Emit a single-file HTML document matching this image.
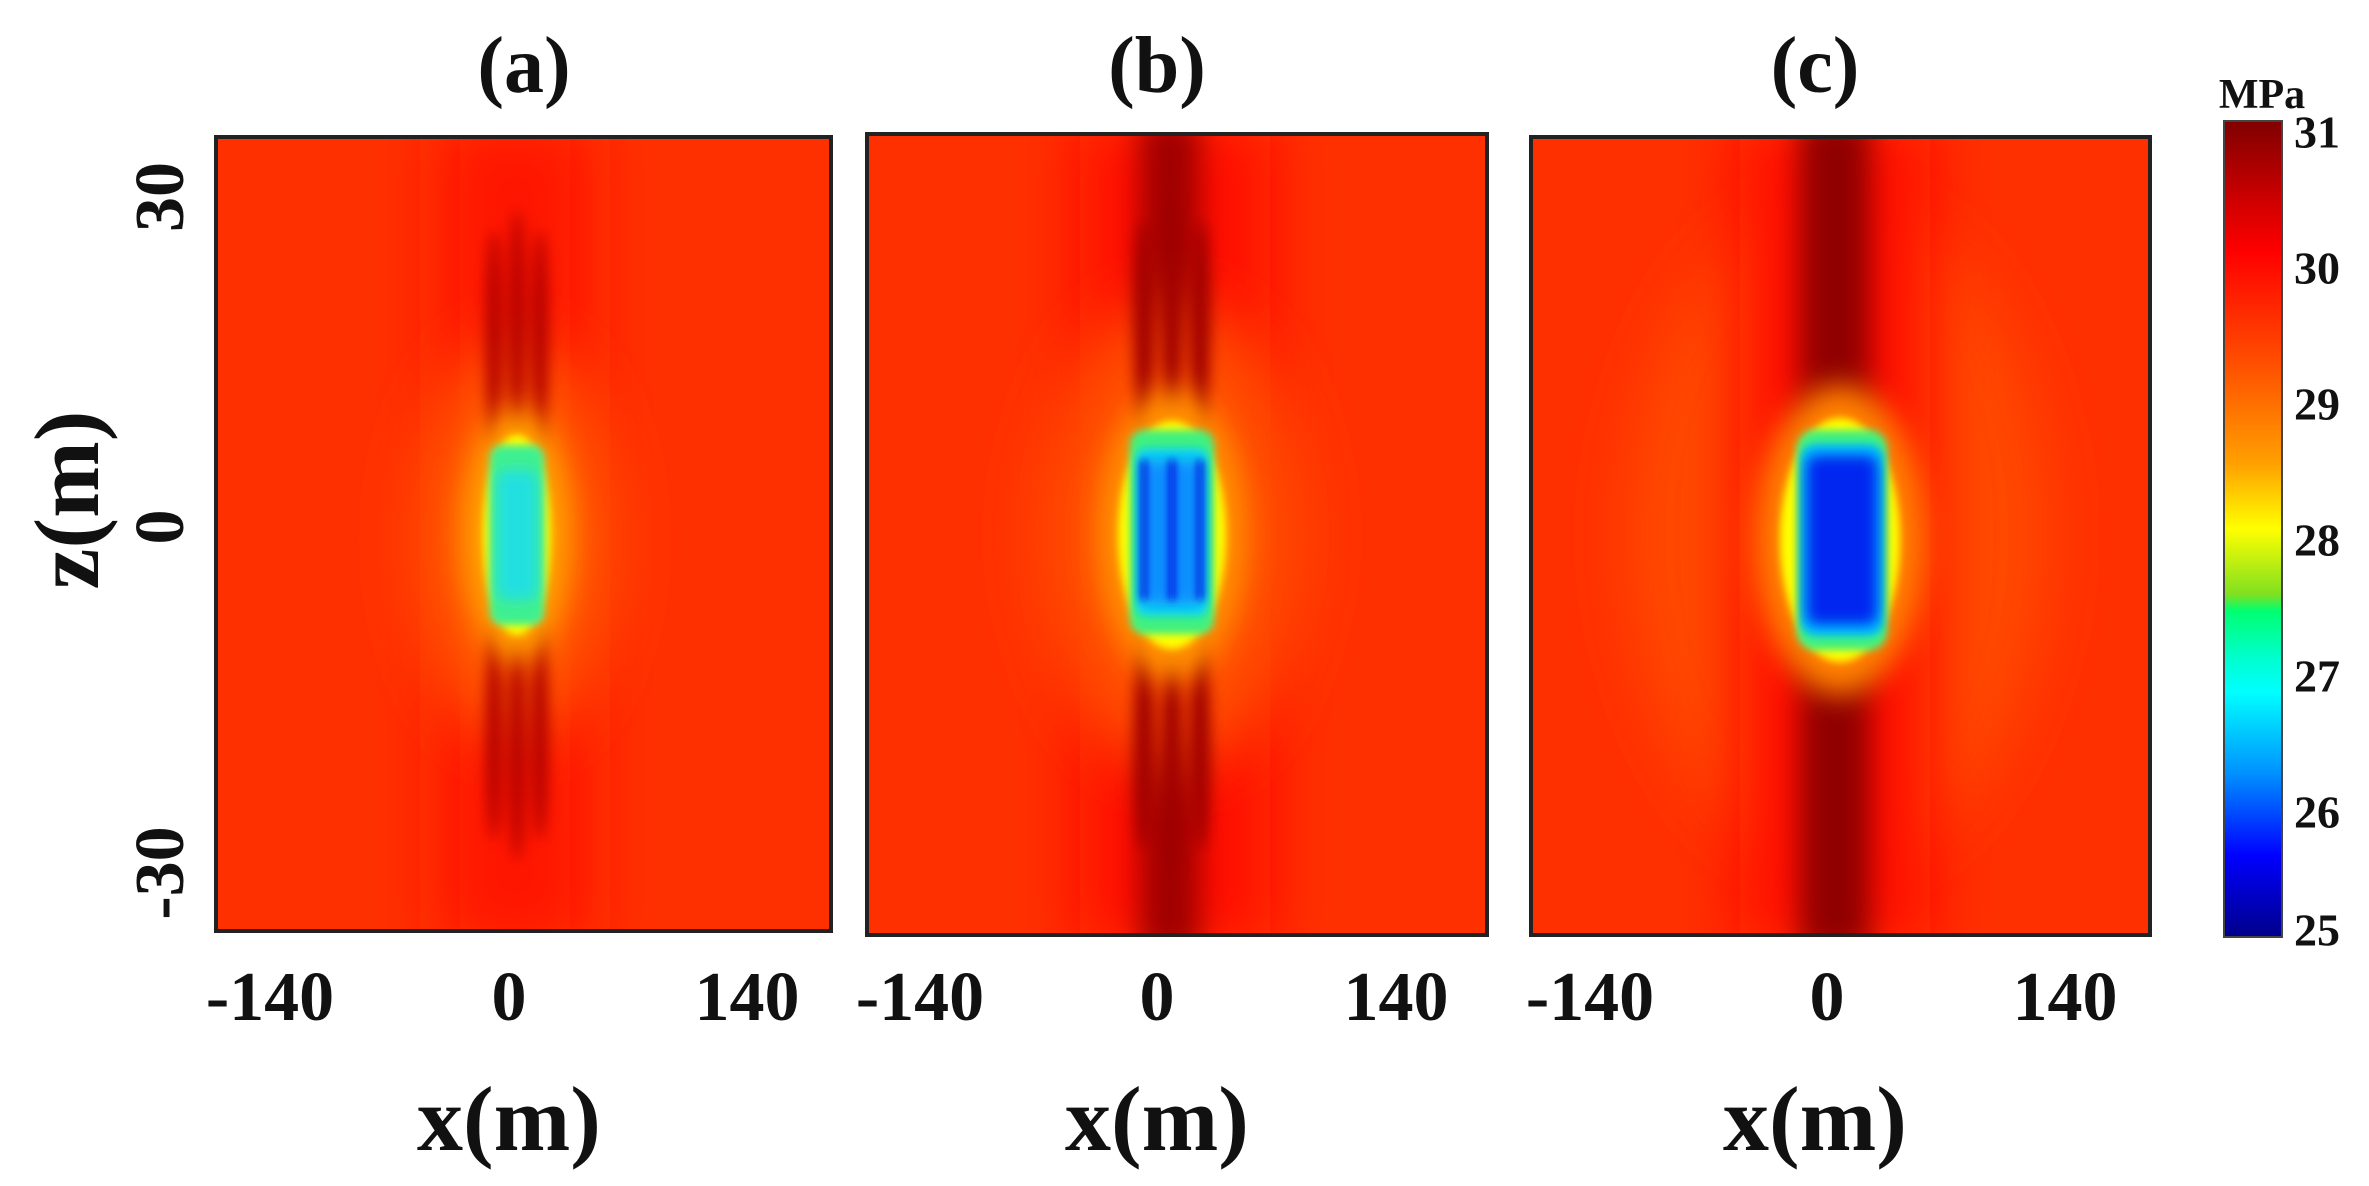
<!DOCTYPE html>
<html><head><meta charset="utf-8"><style>
html,body{margin:0;padding:0;background:#fff;}
svg{display:block}
text{font-family:"Liberation Serif",serif;font-weight:bold;fill:#111}
</style></head><body>
<svg width="2369" height="1186" viewBox="0 0 2369 1186" xmlns="http://www.w3.org/2000/svg">
<defs>
<filter id="b30" x="-50%" y="-50%" width="200%" height="200%"><feGaussianBlur stdDeviation="30"/></filter>
<filter id="b15" x="-50%" y="-50%" width="200%" height="200%"><feGaussianBlur stdDeviation="14"/></filter>
<filter id="b8" x="-50%" y="-50%" width="200%" height="200%"><feGaussianBlur stdDeviation="7"/></filter>
<filter id="b4" x="-50%" y="-50%" width="200%" height="200%"><feGaussianBlur stdDeviation="4"/></filter>
<clipPath id="ca"><rect x="216" y="137" width="615" height="794"/></clipPath>
<clipPath id="cb"><rect x="867" y="134" width="620" height="801"/></clipPath>
<clipPath id="cc"><rect x="1531" y="137" width="619" height="798"/></clipPath>
<linearGradient id="cbar" x1="0" y1="0" x2="0" y2="1">
<stop offset="0" stop-color="#800000"/><stop offset="0.1" stop-color="#d00000"/><stop offset="0.16" stop-color="#ff0000"/>
<stop offset="0.3" stop-color="#ff5000"/><stop offset="0.42" stop-color="#ffa000"/><stop offset="0.5" stop-color="#ffff00"/>
<stop offset="0.58" stop-color="#80e020"/><stop offset="0.6" stop-color="#00ff70"/><stop offset="0.66" stop-color="#00ffd0"/>
<stop offset="0.7" stop-color="#00ffff"/><stop offset="0.8" stop-color="#0090ff"/><stop offset="0.9" stop-color="#0000ff"/>
<stop offset="1" stop-color="#00008a"/></linearGradient>
</defs>

<!-- Panel a -->
<g clip-path="url(#ca)">
<rect x="216" y="137" width="615" height="794" fill="#ff3000"/>
<rect x="440" y="120" width="150" height="830" fill="#ff1800" filter="url(#b30)"/>
<ellipse cx="515" cy="540" rx="100" ry="200" fill="#ff5a00" filter="url(#b30)"/>
<g fill="#b00000" filter="url(#b8)">
<ellipse cx="494" cy="340" rx="8" ry="110"/><ellipse cx="517" cy="330" rx="8" ry="120"/><ellipse cx="540" cy="340" rx="8" ry="110"/>
<ellipse cx="494" cy="730" rx="8" ry="110"/><ellipse cx="517" cy="740" rx="8" ry="120"/><ellipse cx="540" cy="730" rx="8" ry="110"/>
</g>
<ellipse cx="517" cy="535" rx="55" ry="125" fill="#ffa000" filter="url(#b15)"/>
<ellipse cx="517" cy="535" rx="34" ry="100" fill="#ffff00" filter="url(#b4)"/>
<rect x="490" y="445" width="54" height="180" rx="12" fill="#40f090" filter="url(#b4)"/>
<rect x="496" y="470" width="42" height="130" rx="10" fill="#20e0e0" filter="url(#b8)"/>
</g>
<rect x="216" y="137" width="615" height="794" fill="none" stroke="#222" stroke-width="4"/>

<!-- Panel b -->
<g clip-path="url(#cb)">
<rect x="867" y="134" width="620" height="801" fill="#ff3000"/>
<rect x="1080" y="120" width="190" height="830" fill="#ff1000" filter="url(#b30)"/>
<rect x="1140" y="120" width="60" height="830" fill="#a00000" filter="url(#b15)"/>
<ellipse cx="1172" cy="535" rx="135" ry="235" fill="#ff5000" filter="url(#b30)"/>
<g fill="#a00000" filter="url(#b8)">
<ellipse cx="1144" cy="330" rx="10" ry="110"/><ellipse cx="1172" cy="320" rx="10" ry="120"/><ellipse cx="1200" cy="330" rx="10" ry="110"/>
<ellipse cx="1144" cy="740" rx="10" ry="110"/><ellipse cx="1172" cy="750" rx="10" ry="120"/><ellipse cx="1200" cy="740" rx="10" ry="110"/>
</g>
<ellipse cx="1172" cy="535" rx="75" ry="145" fill="#ff9000" filter="url(#b15)"/>
<ellipse cx="1172" cy="535" rx="54" ry="114" fill="#ffff00" filter="url(#b4)"/>
<rect x="1130" y="430" width="84" height="204" rx="14" fill="#40f080" filter="url(#b4)"/>
<rect x="1136" y="448" width="72" height="168" rx="10" fill="#10d8f0" filter="url(#b4)"/>
<rect x="1142" y="460" width="60" height="145" rx="8" fill="#1090ff" filter="url(#b8)"/>
<g fill="#0010e0" filter="url(#b4)"><rect x="1141" y="460" width="6" height="140"/><rect x="1169" y="460" width="6" height="140"/><rect x="1197" y="460" width="6" height="140"/></g>
</g>
<rect x="867" y="134" width="620" height="801" fill="none" stroke="#222" stroke-width="4"/>

<!-- Panel c -->
<g clip-path="url(#cc)">
<rect x="1531" y="137" width="619" height="798" fill="#ff3000"/>
<ellipse cx="1837" cy="535" rx="210" ry="330" fill="#ff4a00" filter="url(#b30)"/>
<rect x="1740" y="120" width="190" height="830" fill="#ff1000" filter="url(#b30)"/>
<rect x="1800" y="120" width="70" height="830" fill="#900000" filter="url(#b15)"/>
<ellipse cx="1840" cy="540" rx="85" ry="155" fill="#ff8000" filter="url(#b15)"/>
<ellipse cx="1840" cy="540" rx="60" ry="122" fill="#ffff00" filter="url(#b4)"/>
<rect x="1797" y="430" width="90" height="220" rx="18" fill="#40f080" filter="url(#b4)"/>
<rect x="1801" y="444" width="82" height="192" rx="14" fill="#00c8ff" filter="url(#b4)"/>
<rect x="1806" y="455" width="72" height="170" rx="10" fill="#0028f0" filter="url(#b8)"/>
</g>
<rect x="1531" y="137" width="619" height="798" fill="none" stroke="#222" stroke-width="4"/>

<!-- colorbar -->
<rect x="2224" y="121" width="58" height="816" fill="url(#cbar)" stroke="#444" stroke-width="2"/>
<text x="2262" y="108" font-size="42" text-anchor="middle">MPa</text>
<g font-size="46">
<text x="2294" y="137" dominant-baseline="middle">31</text>
<text x="2294" y="273" dominant-baseline="middle">30</text>
<text x="2294" y="409" dominant-baseline="middle">29</text>
<text x="2294" y="545" dominant-baseline="middle">28</text>
<text x="2294" y="681" dominant-baseline="middle">27</text>
<text x="2294" y="817" dominant-baseline="middle">26</text>
<text x="2294" y="935" dominant-baseline="middle">25</text>
</g>

<!-- titles -->
<g font-size="80" text-anchor="middle">
<text x="524" y="92">(a)</text><text x="1157" y="92">(b)</text><text x="1815" y="92">(c)</text>
</g>
<!-- x ticks -->
<g font-size="70" text-anchor="middle">
<text x="270" y="1020">-140</text><text x="509" y="1020">0</text><text x="747" y="1020">140</text>
<text x="920" y="1020">-140</text><text x="1157" y="1020">0</text><text x="1396" y="1020">140</text>
<text x="1590" y="1020">-140</text><text x="1827" y="1020">0</text><text x="2065" y="1020">140</text>
</g>
<g font-size="92" text-anchor="middle">
<text x="509" y="1150">x(m)</text><text x="1157" y="1150">x(m)</text><text x="1815" y="1150">x(m)</text>
</g>
<!-- y ticks -->
<g font-size="70" text-anchor="middle">
<text transform="translate(183,197) rotate(-90)">30</text>
<text transform="translate(183,527) rotate(-90)">0</text>
<text transform="translate(183,873) rotate(-90)">-30</text>
</g>
<text transform="translate(98,500) rotate(-90)" font-size="92" text-anchor="middle">z(m)</text>
</svg>
</body></html>
